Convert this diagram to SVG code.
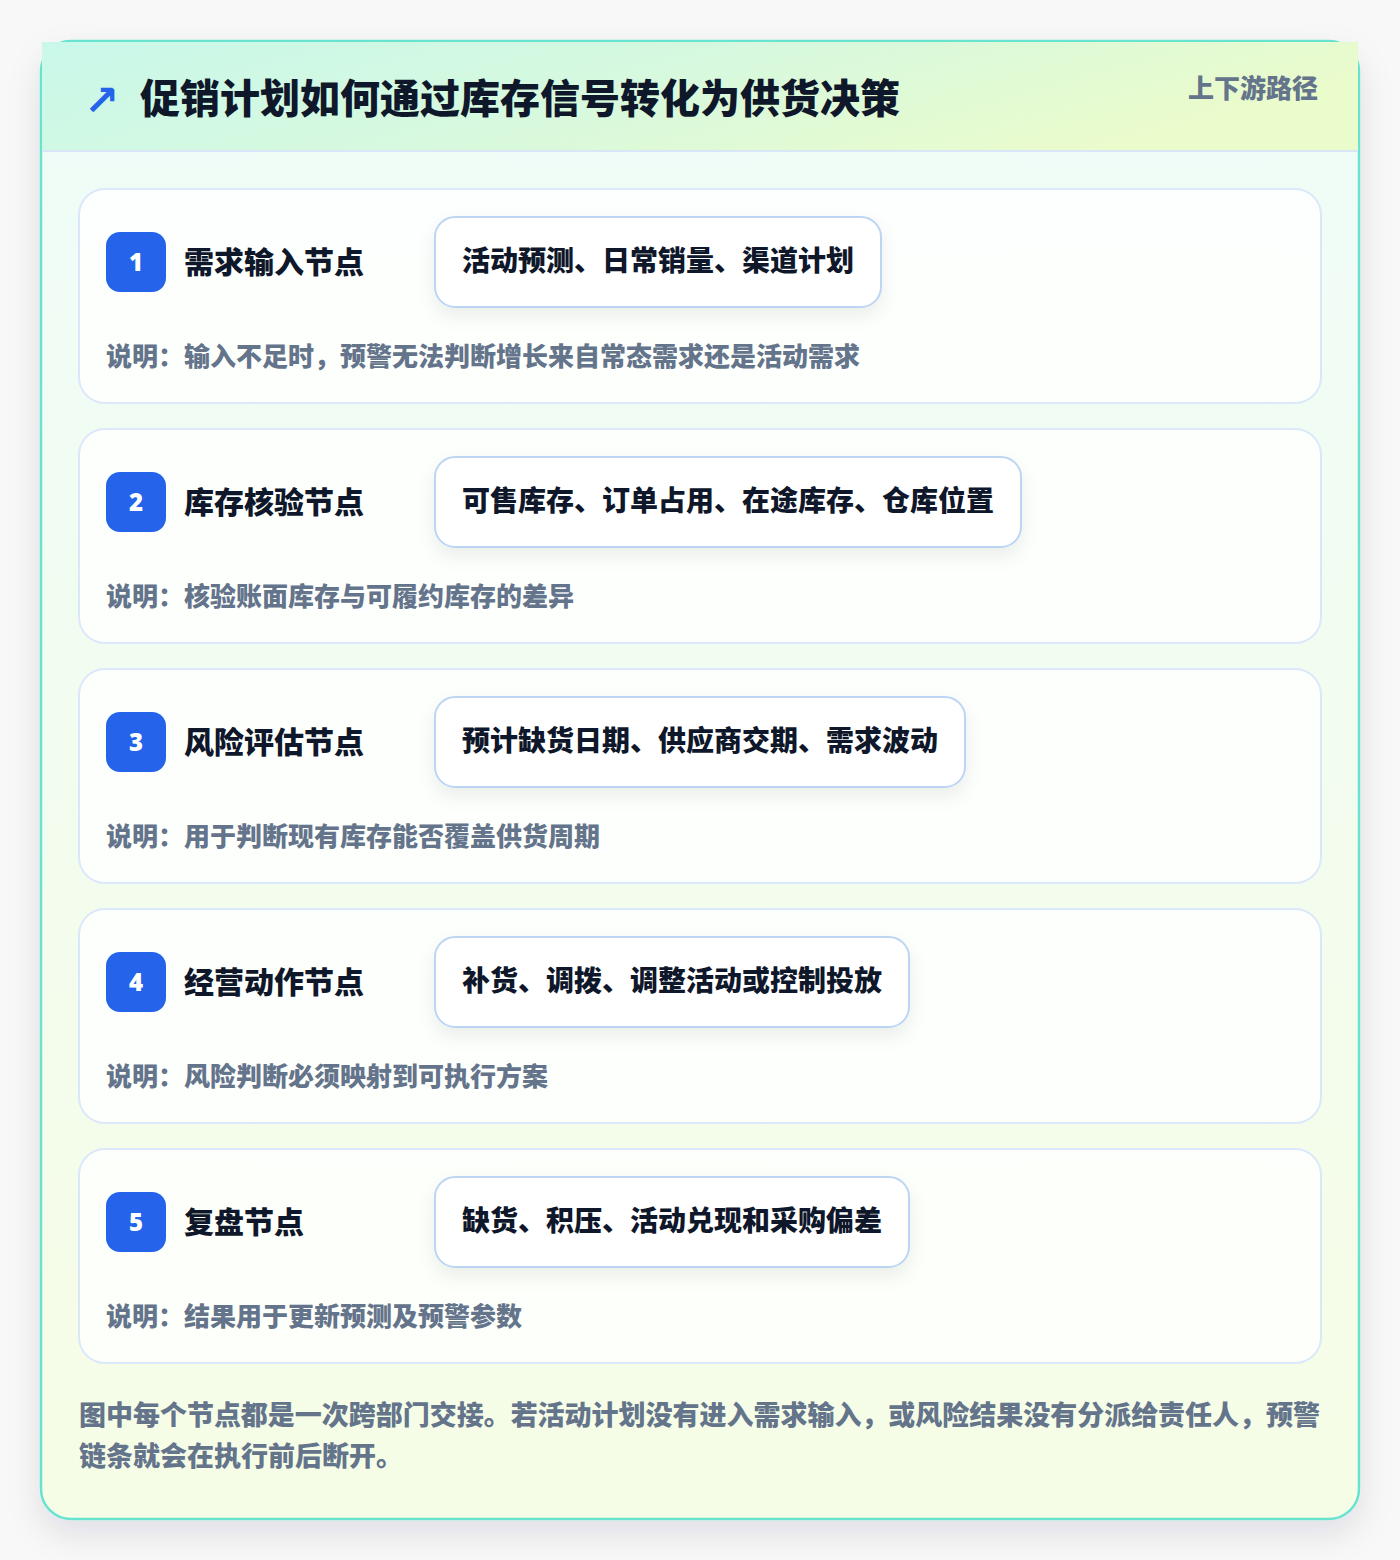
<svg xmlns="http://www.w3.org/2000/svg" width="1400" height="1560" viewBox="0 0 1400 1560">
<defs>
<linearGradient id="hdr" x1="0" y1="0" x2="1" y2="0.3">
<stop offset="0" stop-color="#c9f8ea"/>
<stop offset="0.5" stop-color="#d6f9df"/>
<stop offset="1" stop-color="#eafbcc"/>
</linearGradient>
<linearGradient id="body" x1="0" y1="0" x2="0" y2="1">
<stop offset="0" stop-color="#effcf8"/>
<stop offset="1" stop-color="#f6fde6"/>
</linearGradient>
<filter id="outerShadow" x="-10%" y="-10%" width="120%" height="120%">
<feDropShadow dx="0" dy="14" stdDeviation="16" flood-color="#0f172a" flood-opacity="0.10"/>
</filter>
<filter id="pillShadow" x="-20%" y="-40%" width="140%" height="200%">
<feDropShadow dx="0" dy="8" stdDeviation="9" flood-color="#0f172a" flood-opacity="0.07"/>
</filter>
<style>
text{font-family:"Noto Sans CJK SC","Noto Sans",sans-serif;font-weight:800}
.card{fill:#ffffff;fill-opacity:0.82;stroke:#dbe7fb;stroke-width:2}
.badge{fill:#2563eb}
.num{fill:#ffffff;font-size:24px;font-family:"Open Sans","Noto Sans",sans-serif;font-weight:800}
.title{fill:#0f172a;font-size:30px}
.pill{fill:#ffffff;stroke:#bcd5f5;stroke-width:2}
.ptext{fill:#0f172a;font-size:28px}
.desc{fill:#64748b;font-size:26px}
.foot{fill:#64748b;font-size:27px}
</style>
</defs>
<rect x="0" y="0" width="1400" height="1560" fill="#f8f8f9"/>
<g id="frame">
<rect x="41" y="41" width="1318" height="1478" rx="30" fill="url(#body)" stroke="#67e3cf" stroke-width="2.5" filter="url(#outerShadow)"/>
<rect x="42" y="42" width="1316" height="109" fill="url(#hdr)"/>
<line x1="42" y1="151" x2="1358" y2="151" stroke="#d9e6f8" stroke-width="2"/>
<text x="84" y="115" font-size="42" fill="#2563eb" style="font-family:'DejaVu Sans',sans-serif;font-weight:700">↗</text>
<text x="140" y="113" font-size="40" fill="#0f172a">促销计划如何通过库存信号转化为供货决策</text>
<text x="1318" y="98" font-size="26" fill="#64748b" text-anchor="end">上下游路径</text>
</g>
<g id="node1">
<rect class="card" x="79" y="189" width="1242" height="214" rx="26"/>
<rect class="badge" x="106" y="232" width="60" height="60" rx="14"/>
<text class="num" x="136" y="271" text-anchor="middle">1</text>
<text class="title" x="184" y="273">需求输入节点</text>
<rect class="pill" x="435" y="217" width="446" height="90" rx="20" filter="url(#pillShadow)"/>
<text class="ptext" x="462" y="271">活动预测、日常销量、渠道计划</text>
<text class="desc" x="106" y="366">说明：输入不足时，预警无法判断增长来自常态需求还是活动需求</text>
</g>
<g id="node2">
<rect class="card" x="79" y="429" width="1242" height="214" rx="26"/>
<rect class="badge" x="106" y="472" width="60" height="60" rx="14"/>
<text class="num" x="136" y="511" text-anchor="middle">2</text>
<text class="title" x="184" y="513">库存核验节点</text>
<rect class="pill" x="435" y="457" width="586" height="90" rx="20" filter="url(#pillShadow)"/>
<text class="ptext" x="462" y="511">可售库存、订单占用、在途库存、仓库位置</text>
<text class="desc" x="106" y="606">说明：核验账面库存与可履约库存的差异</text>
</g>
<g id="node3">
<rect class="card" x="79" y="669" width="1242" height="214" rx="26"/>
<rect class="badge" x="106" y="712" width="60" height="60" rx="14"/>
<text class="num" x="136" y="751" text-anchor="middle">3</text>
<text class="title" x="184" y="753">风险评估节点</text>
<rect class="pill" x="435" y="697" width="530" height="90" rx="20" filter="url(#pillShadow)"/>
<text class="ptext" x="462" y="751">预计缺货日期、供应商交期、需求波动</text>
<text class="desc" x="106" y="846">说明：用于判断现有库存能否覆盖供货周期</text>
</g>
<g id="node4">
<rect class="card" x="79" y="909" width="1242" height="214" rx="26"/>
<rect class="badge" x="106" y="952" width="60" height="60" rx="14"/>
<text class="num" x="136" y="991" text-anchor="middle">4</text>
<text class="title" x="184" y="993">经营动作节点</text>
<rect class="pill" x="435" y="937" width="474" height="90" rx="20" filter="url(#pillShadow)"/>
<text class="ptext" x="462" y="991">补货、调拨、调整活动或控制投放</text>
<text class="desc" x="106" y="1086">说明：风险判断必须映射到可执行方案</text>
</g>
<g id="node5">
<rect class="card" x="79" y="1149" width="1242" height="214" rx="26"/>
<rect class="badge" x="106" y="1192" width="60" height="60" rx="14"/>
<text class="num" x="136" y="1231" text-anchor="middle">5</text>
<text class="title" x="184" y="1233">复盘节点</text>
<rect class="pill" x="435" y="1177" width="474" height="90" rx="20" filter="url(#pillShadow)"/>
<text class="ptext" x="462" y="1231">缺货、积压、活动兑现和采购偏差</text>
<text class="desc" x="106" y="1326">说明：结果用于更新预测及预警参数</text>
</g>
<g id="connectors"></g>
<g id="footer">
<text class="foot" x="79" y="1425" textLength="1241" lengthAdjust="spacing">图中每个节点都是一次跨部门交接。若活动计划没有进入需求输入，或风险结果没有分派给责任人，预警</text>
<text class="foot" x="79" y="1466">链条就会在执行前后断开。</text>
</g>
</svg>
